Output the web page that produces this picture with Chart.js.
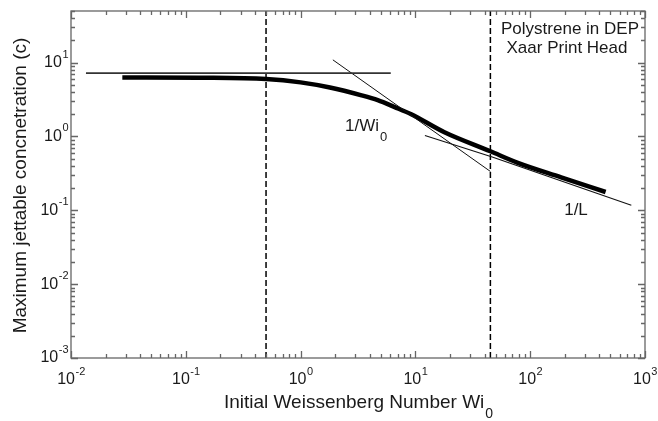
<!DOCTYPE html>
<html>
<head>
<meta charset="utf-8">
<script src="https://cdn.jsdelivr.net/npm/chart.js@4/dist/chart.umd.min.js"></script>
<style>
  body { margin: 0; background: #fff; }
  #wrap { width: 658px; height: 421px; }
</style>
</head>
<body>
<div id="wrap"><canvas id="jetChart"></canvas></div>
<script>
// axis decades (tick labels are 10^n)
var xDecades = [-2, -1, 0, 1, 2, 3];
var yDecades = [-3, -2, -1, 0, 1];
var minorSteps = [2, 3, 4, 5, 6, 7, 8, 9];

// thick curve: max jettable concentration vs Wi0
var curveWi = [0.028, 0.13, 0.5, 1, 1.8, 3.4, 4.7, 6.6, 9.2, 17.9, 45, 78, 186, 454];
var curveC  = [6.3, 6.25, 6.0, 5.4, 4.6, 3.6, 3.1, 2.5, 2.0, 1.14, 0.63, 0.44, 0.28, 0.177];

// asymptotes
var plateauWi = [0.0135, 6.1];
var plateauC  = [7.2, 7.2];
var invWiWi = [1.91, 45];
var invWiC  = [10.9, 0.336];
var invLWi = [12.1, 46, 760];
var invLC  = [1.03, 0.53, 0.117];

// dashed vertical markers
var markerWi = [0.5, 45];

var yMin = 0.001, yMax = 50;

function pts(xs, ys) {
  return xs.map(function (x, i) { return { x: x, y: ys[i] }; });
}

var font = '"Liberation Sans", Arial, Helvetica, sans-serif';

function drawPow(ctx, exp, x, y, align) {
  ctx.font = '16px ' + font;
  var w10 = ctx.measureText('10').width;
  ctx.font = '11px ' + font;
  var we = ctx.measureText(String(exp)).width;
  var left = align === 'right' ? x - w10 - we : x - (w10 + we) / 2;
  ctx.textAlign = 'left';
  ctx.textBaseline = 'middle';
  ctx.font = '16px ' + font;
  ctx.fillText('10', left, y);
  ctx.font = '11px ' + font;
  ctx.fillText(String(exp), left + w10 + 0.5, y - 8);
}

function drawSub(ctx, main, sub, x, y, size, subSize, align) {
  ctx.font = size + 'px ' + font;
  var wm = ctx.measureText(main).width;
  ctx.font = subSize + 'px ' + font;
  var ws = ctx.measureText(sub).width;
  var left = align === 'center' ? x - (wm + ws) / 2 : x;
  ctx.textAlign = 'left';
  ctx.textBaseline = 'middle';
  ctx.font = size + 'px ' + font;
  ctx.fillText(main, left, y);
  ctx.font = subSize + 'px ' + font;
  ctx.fillText(sub, left + wm + 1, y + 11);
}

var frameTicks = {
  id: 'frameTicks',
  afterDatasetsDraw: function (chart) {
    var ctx = chart.ctx, a = chart.chartArea;
    var xs = chart.scales.x, ys = chart.scales.y;
    ctx.save();
    ctx.strokeStyle = '#666';
    ctx.lineWidth = 1.3;
    ctx.strokeRect(a.left, a.top, a.right - a.left, a.bottom - a.top);

    ctx.beginPath();
    xDecades.forEach(function (d) {
      var base = Math.pow(10, d);
      var p = Math.round(xs.getPixelForValue(base)) + 0.5;
      ctx.moveTo(p, a.bottom); ctx.lineTo(p, a.bottom - 7);
      ctx.moveTo(p, a.top); ctx.lineTo(p, a.top + 7);
      if (d < xDecades[xDecades.length - 1]) {
        minorSteps.forEach(function (m) {
          var q = Math.round(xs.getPixelForValue(base * m)) + 0.5;
          ctx.moveTo(q, a.bottom); ctx.lineTo(q, a.bottom - 4);
          ctx.moveTo(q, a.top); ctx.lineTo(q, a.top + 4);
        });
      }
    });
    yDecades.forEach(function (d) {
      var base = Math.pow(10, d);
      var p = Math.round(ys.getPixelForValue(base)) + 0.5;
      ctx.moveTo(a.left, p); ctx.lineTo(a.left + 7, p);
      ctx.moveTo(a.right, p); ctx.lineTo(a.right - 7, p);
      minorSteps.forEach(function (m) {
        var v = base * m;
        if (v > yMax) return;
        var q = Math.round(ys.getPixelForValue(v)) + 0.5;
        ctx.moveTo(a.left, q); ctx.lineTo(a.left + 4, q);
        ctx.moveTo(a.right, q); ctx.lineTo(a.right - 4, q);
      });
    });
    ctx.stroke();

    ctx.fillStyle = '#1a1a1a';
    xDecades.forEach(function (d) {
      drawPow(ctx, d, xs.getPixelForValue(Math.pow(10, d)), a.bottom + 22, 'center');
    });
    yDecades.forEach(function (d) {
      drawPow(ctx, d, a.left - 3, ys.getPixelForValue(Math.pow(10, d)), 'right');
    });

    // axis titles
    drawSub(ctx, 'Initial Weissenberg Number Wi', '0', (a.left + a.right) / 2, a.bottom + 45, 19, 14, 'center');
    ctx.save();
    ctx.translate(21, (a.top + a.bottom) / 2 + 1);
    ctx.rotate(-Math.PI / 2);
    ctx.font = '19px ' + font;
    ctx.textAlign = 'center';
    ctx.textBaseline = 'middle';
    ctx.fillText('Maximum jettable concnetration (c)', 0, 0);
    ctx.restore();

    // annotations
    ctx.font = '17px ' + font;
    ctx.textAlign = 'center';
    ctx.textBaseline = 'middle';
    ctx.fillText('Polystrene in DEP', 570, 29);
    ctx.fillText('Xaar Print Head', 567, 48);
    ctx.fillText('1/L', 576, 210);
    drawSub(ctx, '1/Wi', '0', 345, 126, 17, 13, 'left');
    ctx.restore();
  }
};

var ctx = document.getElementById('jetChart').getContext('2d');
var chart = new Chart(ctx, {
  type: 'scatter',
  data: {
    datasets: [
      { data: pts(plateauWi, plateauC), borderColor: '#333', borderWidth: 1.6 },
      { data: pts(invWiWi, invWiC), borderColor: '#111', borderWidth: 1 },
      { data: pts(invLWi, invLC), borderColor: '#111', borderWidth: 1.1 },
      { data: pts(curveWi, curveC), borderColor: '#000', borderWidth: 4.5, cubicInterpolationMode: 'monotone', borderCapStyle: 'butt' },
      { data: pts([markerWi[0], markerWi[0]], [yMin, yMax]), borderColor: '#000', borderWidth: 1.5, borderDash: [6, 3] },
      { data: pts([markerWi[1], markerWi[1]], [yMin, yMax]), borderColor: '#000', borderWidth: 1.5, borderDash: [6, 3] }
    ]
  },
  options: {
    responsive: true,
    maintainAspectRatio: false,
    animation: false,
    showLine: true,
    elements: { point: { radius: 0, hoverRadius: 0 } },
    layout: { padding: { left: 71, right: 13, top: 11, bottom: 63 } },
    scales: {
      x: { type: 'logarithmic', min: 0.01, max: 1000, display: false },
      y: { type: 'logarithmic', min: yMin, max: yMax, display: false }
    },
    plugins: {
      legend: { display: false },
      tooltip: { enabled: false }
    }
  },
  plugins: [frameTicks]
});
</script>
</body>
</html>
